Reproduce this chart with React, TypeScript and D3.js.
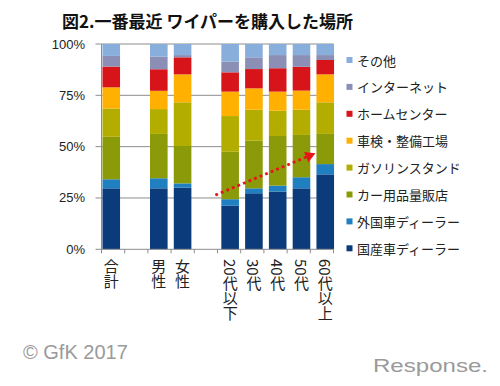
import React from 'react';
import * as d3 from 'd3';

// bar slots, null = empty gap between groups
const slots = ['合計', null, '男性', '女性', null, '20代以下', '30代', '40代', '50代', '60代以上'];
const categories = ['合計', '男性', '女性', '20代以下', '30代', '40代', '50代', '60代以上'];

// stack order, bottom to top
const series = [
  '国産車ディーラー',
  '外国車ディーラー',
  'カー用品量販店',
  'ガソリンスタンド',
  '車検・整備工場',
  'ホームセンター',
  'インターネット',
  'その他',
];
const colors = ['#0b3b7a', '#1f7fc0', '#8b9a08', '#b3ad00', '#ffb000', '#d7141a', '#8b8fb5', '#88aedc'];

// % per category (same order as categories)
const kokusan = [29.7, 29.7, 30.0, 21.2, 27.3, 28.1, 29.7, 36.5];
const gaikoku = [4.4, 4.9, 2.1, 3.2, 2.4, 2.9, 5.4, 5.0];
const carYohin = [20.7, 21.6, 18.2, 23.1, 23.2, 24.2, 20.6, 14.7];
const gasoline = [13.8, 12.1, 21.3, 17.4, 15.1, 12.3, 12.3, 15.4];
const shaken = [10.3, 8.9, 13.6, 11.9, 10.4, 9.3, 9.3, 13.6];
const homeCenter = [10.1, 10.5, 8.3, 9.4, 9.4, 11.4, 11.6, 7.0];
const internet = [5.2, 6.2, 1.1, 5.2, 5.7, 6.4, 5.7, 2.4];
const other = [5.8, 6.1, 5.4, 8.6, 6.5, 5.4, 5.4, 5.4];

const yTicks = [0, 25, 50, 75, 100];

// red dotted trend arrow
const trendFrom = { category: '20代以下', value: 26.4 };
const trendTo = { category: '60代以上', value: 46.8 };

const W = 500;
const H = 386;
const margin = { top: 44, right: 166.5, bottom: 136.7, left: 101.5 };
const jp = "'Noto Sans CJK JP', sans-serif";
const latin = "'Liberation Sans', Arial, sans-serif";

const slotKey = (s: string | null, i: number) => (s === null ? `gap${i}` : s);

export default function App() {
  const valuesBySeries = [kokusan, gaikoku, carYohin, gasoline, shaken, homeCenter, internet, other];
  const rows = categories.map((c, i) => {
    const r: Record<string, any> = { category: c };
    series.forEach((s, j) => (r[s] = valuesBySeries[j][i]));
    return r;
  });
  const stacked = d3.stack<any>().keys(series)(rows);

  const x0 = margin.left;
  const x1 = W - margin.right;
  const y0 = H - margin.bottom;

  const x = d3
    .scaleBand<string>()
    .domain(slots.map(slotKey))
    .range([x0, x1 + 1.5])
    .paddingInner(0.26)
    .paddingOuter(0.04);

  const y = d3.scaleLinear().domain([0, 100]).range([y0, margin.top]);

  const slotStep = (x1 - x0) / slots.length;

  // arrow geometry
  const ax = x(trendFrom.category)! - 6;
  const ay = y(trendFrom.value);
  const bx = x(trendTo.category)! - 1;
  const by = y(trendTo.value);
  const len = Math.hypot(bx - ax, by - ay);
  const ux = (bx - ax) / len;
  const uy = (by - ay) / len;
  const headLen = 10;
  const headW = 5.5;
  const hx = bx - ux * headLen;
  const hy = by - uy * headLen;

  const legendY = d3.scalePoint<string>().domain(series.slice().reverse()).range([60, 248.3]);

  return (
    <svg width={W} height={H} style={{ position: 'absolute', left: 0, top: 0, background: '#fff' }}>
      <text x={62} y={28} fontFamily={jp} fontWeight="bold" fontSize={17} fill="#111">
        図2.一番最近 ワイパーを購入した場所
      </text>

      {/* gridlines + y labels */}
      {yTicks.map((t) => (
        <g key={t}>
          {t > 0 && <line x1={x0} x2={x1} y1={y(t)} y2={y(t)} stroke="#8c8c8c" strokeWidth={1} />}
          <line x1={x0 - 6} x2={x0} y1={y(t)} y2={y(t)} stroke="#8c8c8c" />
          <text
            x={85}
            y={y(t)}
            textAnchor="end"
            dominantBaseline="central"
            fontFamily={latin}
            fontSize={13}
            fill="#222"
          >
            {t}%
          </text>
        </g>
      ))}

      {/* bars */}
      {stacked.map((layer, j) => (
        <g key={layer.key} fill={colors[j]}>
          {layer.map((d) => (
            <rect
              key={d.data.category}
              x={x(d.data.category)}
              width={x.bandwidth()}
              y={y(d[1])}
              height={y(d[0]) - y(d[1])}
            />
          ))}
        </g>
      ))}

      {/* axes */}
      <line x1={x0} x2={x0} y1={margin.top} y2={y0} stroke="#8c8c8c" />
      <line x1={x0} x2={x1} y1={y0} y2={y0} stroke="#8c8c8c" />
      {d3.range(slots.length + 1).map((i) => (
        <line
          key={i}
          x1={x0 + i * slotStep}
          x2={x0 + i * slotStep}
          y1={y0}
          y2={y0 + 4}
          stroke="#8c8c8c"
        />
      ))}

      {/* x labels, vertical */}
      {categories.map((c) => (
        <text
          key={c}
          x={x(c)! + x.bandwidth() / 2}
          y={259}
          writingMode="vertical-rl"
          fontFamily={jp}
          fontSize={15}
          fill="#222"
        >
          {c}
        </text>
      ))}

      {/* trend arrow */}
      <line
        x1={ax}
        y1={ay}
        x2={hx}
        y2={hy}
        stroke="#e8141a"
        strokeWidth={2.8}
        strokeDasharray="2.8 3.2"
      />
      <polygon
        points={`${bx},${by} ${hx - uy * headW},${hy + ux * headW} ${hx + uy * headW},${hy - ux * headW}`}
        fill="#e8141a"
      />

      {/* legend */}
      {series.map((s, j) => (
        <g key={s} transform={`translate(346.5,${legendY(s)})`}>
          <rect x={0} y={-3} width={6} height={6} fill={colors[j]} />
          <text x={10.5} y={0} dominantBaseline="central" fontFamily={jp} fontSize={13} fill="#222">
            {s}
          </text>
        </g>
      ))}

      {/* footer */}
      <text x={23} y={359} fontFamily={latin} fontSize={20} fill="#9a9a9a">
        © GfK 2017
      </text>
      <text
        x={373}
        y={372}
        fontFamily={latin}
        fontSize={19}
        fill="#9a9a9a"
        textLength={115}
        lengthAdjust="spacingAndGlyphs"
      >
        Response.
      </text>
    </svg>
  );
}
